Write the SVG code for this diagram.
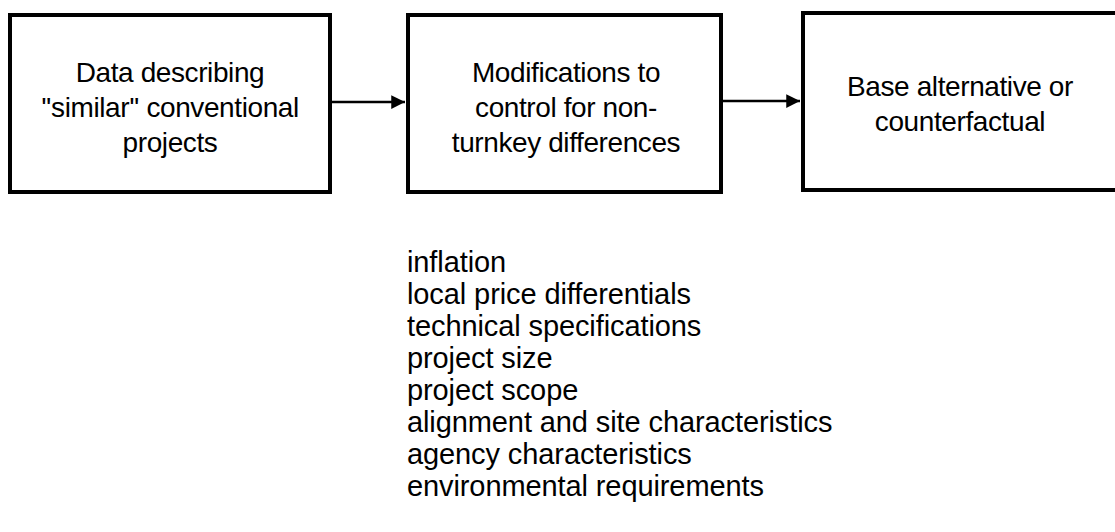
<svg xmlns="http://www.w3.org/2000/svg" width="1115" height="532" viewBox="0 0 1115 532">
  <defs>
    <style>
      .box { fill: #ffffff; stroke: #000000; stroke-width: 4; }
      .lbl { font-family: "Liberation Sans", Arial, sans-serif; font-size: 28px; fill: #000000; text-anchor: middle; letter-spacing: -0.4px; }
      .item { font-family: "Liberation Sans", Arial, sans-serif; font-size: 29px; fill: #000000; letter-spacing: -0.1px; }
      .conn { stroke: #000000; stroke-width: 2.5; fill: none; }
    </style>
    <marker id="arrow" viewBox="0 0 10 10" refX="10" refY="5" markerWidth="7.5" markerHeight="5.5" markerUnits="strokeWidth" orient="auto">
      <path d="M0,0 L10,5 L0,10 Z" fill="#000000"/>
    </marker>
  </defs>
  <rect width="1115" height="532" fill="#ffffff"/>

  <!-- connectors between the stages -->
  <g id="connectors">
    <line class="conn" x1="332" y1="102" x2="405" y2="102" marker-end="url(#arrow)"/>
    <line class="conn" x1="723" y1="101" x2="800" y2="101" marker-end="url(#arrow)"/>
  </g>

  <g id="node-data">
    <rect class="box" x="10" y="15" width="320" height="177"/>
    <text class="lbl" x="170" y="82">Data describing</text>
    <text class="lbl" x="170" y="117">''similar'' conventional</text>
    <text class="lbl" x="170" y="152">projects</text>
  </g>

  <g id="node-modifications">
    <rect class="box" x="408" y="15" width="313" height="177"/>
    <text class="lbl" x="566" y="82">Modifications to</text>
    <text class="lbl" x="566" y="117">control for non-</text>
    <text class="lbl" x="566" y="152">turnkey differences</text>
  </g>

  <g id="node-base">
    <rect class="box" x="803" y="13" width="330" height="177"/>
    <text class="lbl" x="960" y="96">Base alternative or</text>
    <text class="lbl" x="960" y="131">counterfactual</text>
  </g>

  <g id="modification-list">
    <text class="item" x="407" y="272">inflation</text>
    <text class="item" x="407" y="304">local price differentials</text>
    <text class="item" x="407" y="336">technical specifications</text>
    <text class="item" x="407" y="368">project size</text>
    <text class="item" x="407" y="400">project scope</text>
    <text class="item" x="407" y="432">alignment and site characteristics</text>
    <text class="item" x="407" y="464">agency characteristics</text>
    <text class="item" x="407" y="496">environmental requirements</text>
  </g>
</svg>
